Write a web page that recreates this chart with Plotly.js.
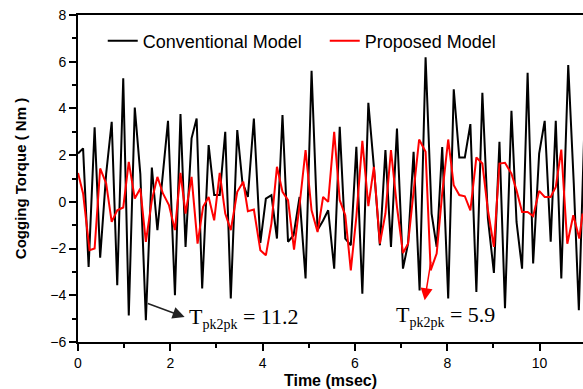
<!DOCTYPE html>
<html>
<head>
<meta charset="utf-8">
<script src="https://cdn.plot.ly/plotly-3.0.1.min.js"></script>
<style>html,body{margin:0;padding:0;background:#fff;}#chart{width:583px;height:389px;}</style>
</head>
<body>
<div id="chart"></div>
<script>
// Conventional model (black)
const convTime = [0.00,0.11,0.23,0.36,0.48,0.61,0.73,0.85,0.98,1.10,1.23,1.35,1.47,1.60,1.72,1.95,2.10,2.22,2.33,2.46,2.57,2.69,2.83,2.95,3.07,3.19,3.31,3.45,3.56,3.68,3.81,3.95,4.07,4.19,4.31,4.43,4.55,4.67,4.80,4.93,5.06,5.19,5.31,5.42,5.55,5.67,5.79,5.91,6.03,6.16,6.29,6.41,6.54,6.66,6.78,6.91,7.04,7.15,7.27,7.40,7.53,7.66,7.77,7.89,8.02,8.14,8.26,8.38,8.50,8.63,8.76,8.88,9.01,9.13,9.25,9.39,9.50,9.62,9.74,9.86,9.99,10.11,10.24,10.35,10.47,10.62,10.74,10.85,10.97];
const convTorque = [2.07,2.29,-2.79,3.19,-2.39,1.2,3.43,-3.57,5.29,-4.86,4.04,1.2,-5.07,1.47,-1.21,3.47,-4.0,3.76,-1.93,2.72,3.57,-3.71,2.43,0.29,0.29,3.0,-4.14,3.07,0.86,0.21,3.57,-1.76,0.14,0.29,-1.57,3.72,-1.71,-1.43,0.21,-3.28,5.61,-1.21,-0.8,-0.36,-2.86,3.21,-1.57,-1.86,2.36,-3.93,4.24,1.5,-1.86,2.22,-1.93,3.14,-2.86,-1.79,2.14,-3.79,6.19,-0.5,-1.93,2.35,-4.14,4.82,1.9,1.9,3.33,-3.86,4.67,-0.71,-3.04,2.57,-4.55,3.9,-0.86,-2.86,5.53,-2.64,2.07,3.47,-1.71,3.47,-3.28,5.86,0.79,-4.64,3.2];
// Proposed model (red)
const propTime = [0.00,0.11,0.25,0.36,0.48,0.61,0.73,0.85,0.98,1.10,1.23,1.35,1.47,1.60,1.72,1.84,1.97,2.10,2.22,2.33,2.46,2.59,2.71,2.83,2.95,3.07,3.19,3.31,3.45,3.58,3.68,3.81,3.95,4.07,4.19,4.31,4.43,4.55,4.68,4.80,4.93,5.06,5.19,5.31,5.42,5.55,5.67,5.79,5.91,6.03,6.16,6.29,6.41,6.54,6.66,6.78,6.91,7.04,7.15,7.27,7.39,7.53,7.64,7.77,7.89,8.02,8.14,8.26,8.38,8.50,8.63,8.76,8.88,9.01,9.13,9.25,9.39,9.50,9.62,9.74,9.86,9.99,10.11,10.24,10.35,10.47,10.60,10.73,10.86,10.93];
const propTorque = [1.24,0.36,-2.07,-2.0,1.43,0.79,-0.86,-0.36,-0.24,1.71,0.14,0.57,-1.71,0.07,1.07,0.36,-0.14,-1.21,1.24,-0.5,1.07,-1.79,-0.21,0.21,-0.79,1.24,-0.5,-1.21,0.43,0.86,-0.4,-0.33,-2.07,-2.29,-0.93,1.5,0.43,0.07,-2.04,-0.14,2.22,-0.36,-1.29,0.21,0.0,3.0,0.07,-0.57,-2.93,-0.64,2.61,-0.18,1.5,-1.79,-0.5,2.22,-0.21,-2.19,-1.79,0.5,2.67,2.14,-2.93,-2.21,0.36,2.67,0.71,0.29,0.24,-0.36,1.9,1.64,-0.36,-1.93,1.64,1.67,1.21,0.5,-0.43,-0.43,-0.61,0.47,0.21,0.21,0.64,2.24,-1.79,-0.57,-1.57,-0.5];
const seriesNames = ['Conventional Model', 'Proposed Model'];
const peakLabels = ['T<sub><span style="font-size:14px">pk2pk</span></sub> = 11.2', 'T<sub><span style="font-size:14px">pk2pk</span></sub> = 5.9'];

const traces = [
  {x: convTime, y: convTorque, type: 'scatter', mode: 'lines', name: seriesNames[0], line: {color: '#000000', width: 2}},
  {x: propTime, y: propTorque, type: 'scatter', mode: 'lines', name: seriesNames[1], line: {color: '#ff0000', width: 2}}
];

const axisCommon = {
  showgrid: false, zeroline: false, showline: true, linecolor: '#000', linewidth: 2,
  ticks: 'outside', ticklen: 7, tickwidth: 2, tickcolor: '#000',
  tickfont: {family: 'Arial, Liberation Sans, sans-serif', size: 14, color: '#000'}
};

const layout = {
  width: 583, height: 389,
  margin: {l: 78, r: 0, t: 15, b: 47},
  paper_bgcolor: '#fff', plot_bgcolor: '#fff',
  xaxis: Object.assign({}, axisCommon, {
    range: [0, 10.94], tick0: 0, dtick: 2, mirror: true,
    minor: {ticks: 'outside', dtick: 1, ticklen: 4, tickwidth: 2, tickcolor: '#000'},
    title: {text: '<b>Time (msec)</b>', font: {family: 'Arial, Liberation Sans, sans-serif', size: 16, color: '#000'}, standoff: 8}
  }),
  yaxis: Object.assign({}, axisCommon, {
    range: [-6, 8], tick0: -6, dtick: 2,
    minor: {ticks: 'outside', dtick: 1, ticklen: 4, tickwidth: 2, tickcolor: '#000'},
    title: {text: '<b>Cogging Torque ( Nm )</b>', font: {family: 'Arial, Liberation Sans, sans-serif', size: 15, color: '#000'}, standoff: 20}
  }),
  showlegend: true,
  legend: {
    orientation: 'h', x: 0.049, xanchor: 'left', y: 0.92, yanchor: 'middle',
    bgcolor: 'rgba(0,0,0,0)', entrywidth: 177, entrywidthmode: 'pixels',
    font: {family: 'Arial, Liberation Sans, sans-serif', size: 18, color: '#000'}
  },
  annotations: [
    {x: 2.31, y: -4.93, ax: 1.48, ay: -4.33, axref: 'x', ayref: 'y', xref: 'x', yref: 'y', text: '', showarrow: true, arrowhead: 2, arrowsize: 1.6, arrowwidth: 1.5, arrowcolor: '#222'},
    {x: 2.355, y: -4.98, xref: 'x', yref: 'y', xanchor: 'left', yanchor: 'middle', text: peakLabels[0], showarrow: false, font: {family: 'Liberation Serif, Times New Roman, serif', size: 22, color: '#000'}},
    {x: 7.51, y: -4.21, ax: 7.65, ay: -2.5, axref: 'x', ayref: 'y', xref: 'x', yref: 'y', text: '', showarrow: true, arrowhead: 2, arrowsize: 1.6, arrowwidth: 1.5, arrowcolor: '#ff0000'},
    {x: 6.856, y: -4.9, xref: 'x', yref: 'y', xanchor: 'left', yanchor: 'middle', text: peakLabels[1], showarrow: false, font: {family: 'Liberation Serif, Times New Roman, serif', size: 22, color: '#000'}}
  ]
};

Plotly.newPlot('chart', traces, layout, {displayModeBar: false, staticPlot: true});
</script>
</body>
</html>
